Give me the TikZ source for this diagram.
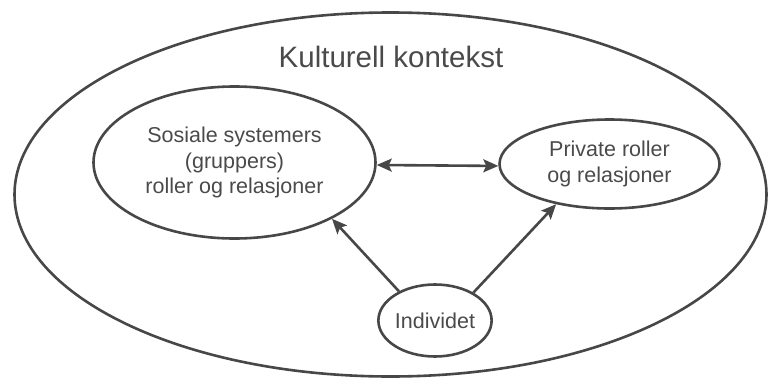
\documentclass[tikz,border=0pt]{standalone}
\usepackage{fontspec}
\setmainfont{Liberation Sans}
\usetikzlibrary{arrows.meta,shapes.geometric}
\definecolor{ink}{HTML}{474747}
\definecolor{txt}{HTML}{4A4A4A}
\tikzset{
  oval/.style={ellipse, draw=ink, line width=2.6pt, inner sep=0pt, text=txt, align=center, font=\fontsize{21.5}{25.5}\selectfont},
  conn/.style={draw=ink, line width=2.6pt, -{Stealth[length=15pt,width=13pt,inset=3pt]}},
  conn2/.style={draw=ink, line width=2.6pt, {Stealth[length=15pt,width=13pt,inset=3pt]}-{Stealth[length=15pt,width=13pt,inset=3pt]}}
}
\begin{document}
\begin{tikzpicture}[x=1pt,y=-1pt]
\useasboundingbox (0,0) rectangle (769,383);
\node[oval, minimum width=752pt, minimum height=364pt] (O) at (390.5,194.5) {};
\node[text=txt, font=\fontsize{29.5}{34}\selectfont] (T) at (391,57) {Kulturell kontekst};
\node[oval, minimum width=282pt, minimum height=152pt] (L) at (234.5,162.5) {Sosiale systemers\\(gruppers)\\roller og relasjoner};
\node[oval, minimum width=220pt, minimum height=89pt] (R) at (609.5,164) {Private roller\\og relasjoner};
\node[oval, minimum width=97pt, minimum height=72pt] (I) at (435,320.5) {Individet};
\draw[conn2] (L.-1) -- (R.181);
\draw[conn] (I.141) -- (L.-30);
\draw[conn] (I.36) -- (R.217);
\end{tikzpicture}
\end{document}
